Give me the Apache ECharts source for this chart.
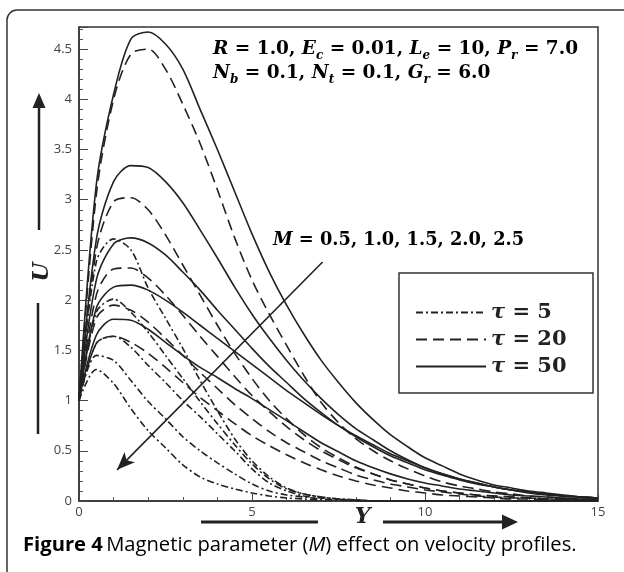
<!DOCTYPE html>
<html>
<head>
<meta charset="utf-8">
<script src="https://cdn.jsdelivr.net/npm/echarts@6/dist/echarts.min.js"></script>
<style>html,body{margin:0;padding:0;background:#fff;}#c{width:624px;height:572px;}</style>
</head>
<body>
<div id="c"></div>
<script>
// Y positions shared by all profiles (step 0.5)
const Ygrid = [0,0.5,1,1.5,2,2.5,3,3.5,4,4.5,5,5.5,6,6.5,7,7.5,8,8.5,9,9.5,10,10.5,11,11.5,12,12.5,13,13.5,14,14.5,15];
// tau = 5 (dash-dot), M = 0.5 .. 2.5
const tau5_M05 = [1,2.38,2.61,2.5,2.12,1.82,1.52,1.2,0.9,0.62,0.4,0.24,0.13,0.07,0.04,0.02,0.01,0,0,0,0,0,0,0,0,0,0,0,0,0,0];
const tau5_M10 = [1,1.88,2.01,1.88,1.68,1.45,1.22,0.99,0.77,0.56,0.37,0.22,0.12,0.07,0.04,0.02,0.01,0,0,0,0,0,0,0,0,0,0,0,0,0,0];
const tau5_M15 = [1,1.57,1.64,1.53,1.35,1.18,1.0,0.84,0.67,0.5,0.32,0.18,0.1,0.05,0.03,0.02,0.01,0,0,0,0,0,0,0,0,0,0,0,0,0,0];
const tau5_M20 = [1,1.45,1.4,1.2,0.99,0.82,0.64,0.5,0.38,0.27,0.17,0.1,0.06,0.04,0.02,0.01,0.01,0,0,0,0,0,0,0,0,0,0,0,0,0,0];
const tau5_M25 = [1,1.31,1.17,0.92,0.7,0.53,0.36,0.24,0.17,0.12,0.08,0.05,0.03,0.02,0.01,0.01,0,0,0,0,0,0,0,0,0,0,0,0,0,0,0];
// tau = 20 (dashed)
const tau20_M05 = [1,3.05,4.0,4.45,4.5,4.3,3.95,3.56,3.1,2.62,2.2,1.86,1.55,1.25,0.98,0.78,0.62,0.5,0.4,0.32,0.25,0.19,0.15,0.12,0.09,0.07,0.05,0.04,0.03,0.02,0.02];
const tau20_M10 = [1,2.5,2.98,3.02,2.9,2.65,2.35,2.05,1.75,1.47,1.22,1.0,0.82,0.66,0.53,0.43,0.34,0.27,0.21,0.17,0.13,0.1,0.08,0.06,0.05,0.04,0.03,0.02,0.02,0.01,0.01];
const tau20_M15 = [1,2.05,2.31,2.32,2.22,2.05,1.85,1.64,1.44,1.24,1.05,0.89,0.74,0.61,0.5,0.41,0.33,0.27,0.21,0.17,0.13,0.1,0.08,0.06,0.05,0.04,0.03,0.02,0.02,0.01,0.01];
const tau20_M20 = [1,1.82,1.95,1.9,1.78,1.62,1.45,1.28,1.12,0.96,0.82,0.69,0.58,0.49,0.4,0.33,0.26,0.21,0.17,0.14,0.11,0.09,0.07,0.05,0.04,0.03,0.03,0.02,0.02,0.01,0.01];
const tau20_M25 = [1,1.57,1.64,1.58,1.47,1.33,1.18,1.03,0.9,0.77,0.65,0.55,0.46,0.38,0.31,0.25,0.2,0.16,0.13,0.1,0.08,0.06,0.05,0.04,0.03,0.02,0.02,0.01,0.01,0.01,0.01];
// tau = 50 (solid)
const tau50_M05 = [1,3.15,4.05,4.6,4.67,4.55,4.3,3.9,3.5,3.08,2.66,2.28,1.95,1.66,1.4,1.18,0.98,0.81,0.66,0.54,0.43,0.35,0.27,0.21,0.16,0.13,0.1,0.08,0.06,0.04,0.03];
const tau50_M10 = [1,2.6,3.18,3.34,3.32,3.18,2.97,2.7,2.42,2.13,1.86,1.62,1.4,1.2,1.02,0.86,0.72,0.61,0.5,0.41,0.33,0.27,0.22,0.18,0.14,0.11,0.08,0.06,0.05,0.04,0.03];
const tau50_M15 = [1,2.2,2.56,2.62,2.57,2.45,2.28,2.1,1.9,1.71,1.52,1.34,1.18,1.02,0.88,0.75,0.64,0.54,0.45,0.38,0.31,0.26,0.21,0.17,0.14,0.11,0.09,0.07,0.05,0.04,0.03];
const tau50_M20 = [1,1.92,2.13,2.15,2.1,2.0,1.88,1.75,1.62,1.49,1.36,1.23,1.1,0.98,0.86,0.75,0.65,0.56,0.47,0.4,0.33,0.27,0.22,0.18,0.14,0.11,0.09,0.07,0.05,0.04,0.03];
const tau50_M25 = [1,1.65,1.81,1.8,1.71,1.58,1.45,1.33,1.23,1.12,1.02,0.91,0.8,0.69,0.58,0.49,0.4,0.33,0.27,0.22,0.18,0.15,0.12,0.1,0.08,0.06,0.05,0.04,0.03,0.02,0.02];

const tauNames = ['τ = 5', 'τ = 20', 'τ = 50'];
const tauGroups = [
  [tau5_M05, tau5_M10, tau5_M15, tau5_M20, tau5_M25],
  [tau20_M05, tau20_M10, tau20_M15, tau20_M20, tau20_M25],
  [tau50_M05, tau50_M10, tau50_M15, tau50_M20, tau50_M25]
];
const yTicks = { min: 0, max: 15, interval: 5 };
const uTicks = { min: 0, max: 4.72, interval: 0.5 };
// M arrow end points in data units [Y, U]
const mArrowStart = [7.04, 2.38];
const mArrowEnd = [1.1, 0.31];

const dashTypes = [[7,3,2,3], [11,6], 'solid'];
const ink = '#222';

const series = [];
tauGroups.forEach((group, gi) => {
  group.forEach((vals) => {
    series.push({
      type: 'line',
      name: tauNames[gi],
      data: Ygrid.map((y, i) => [y, vals[i]]),
      showSymbol: false,
      symbol: 'none',
      smooth: 0.3,
      lineStyle: { color: ink, width: 1.6, type: dashTypes[gi] },
      itemStyle: { color: ink },
      z: 3,
      silent: true
    });
  });
});
series.push({
  type: 'line',
  data: [],
  silent: true,
  markLine: {
    silent: true,
    symbol: ['arrow', 'none'],
    symbolSize: [11, 18],
    label: { show: false },
    lineStyle: { color: ink, width: 1.6, type: 'solid' },
    data: [[{ coord: mArrowEnd }, { coord: mArrowStart }]]
  }
});

const serif = '"DejaVu Serif", "Liberation Serif", serif';
const sans = '"Open Sans", sans-serif';
function mathRich(size) {
  return {
    v: { fontFamily: serif, fontWeight: 'bold', fontStyle: 'italic', fontSize: size, lineHeight: 26, color: ink },
    n: { fontFamily: serif, fontWeight: 'bold', fontSize: size, lineHeight: 26, color: ink },
    s: { fontFamily: serif, fontWeight: 'bold', fontStyle: 'italic', fontSize: Math.round(size * 0.64), lineHeight: 13, verticalAlign: 'bottom', color: ink }
  };
}

const chart = echarts.init(document.getElementById('c'), null, { renderer: 'canvas' });
chart.setOption({
  animation: false,
  backgroundColor: '#fff',
  grid: { left: 79, top: 27, width: 519, height: 474, show: true, borderColor: '#333', borderWidth: 1.5, containLabel: false },
  xAxis: {
    type: 'value', min: yTicks.min, max: yTicks.max, interval: yTicks.interval,
    name: 'Y', nameLocation: 'middle', nameGap: 5, nameMoveOverlap: false,
    nameTextStyle: { fontFamily: serif, fontWeight: 'bold', fontStyle: 'italic', fontSize: 22, color: ink, padding: [0, 0, 0, 48] },
    axisLine: { lineStyle: { color: '#333', width: 1.5 } },
    axisTick: { inside: true, length: 7, lineStyle: { color: '#444' } },
    minorTick: { show: true, splitNumber: 5, length: 4, lineStyle: { color: '#555' } },
    axisLabel: { fontFamily: sans, fontSize: 13, color: '#444', margin: 5 },
    splitLine: { show: false }
  },
  yAxis: {
    type: 'value', min: uTicks.min, max: uTicks.max, interval: uTicks.interval,
    name: 'U', nameLocation: 'middle', nameGap: 26, nameRotate: 90, nameMoveOverlap: false,
    nameTextStyle: { fontFamily: serif, fontWeight: 'bold', fontStyle: 'italic', fontSize: 22, color: ink, padding: [0, 16, 0, 0] },
    axisLine: { lineStyle: { color: '#333', width: 1.5 } },
    axisTick: { inside: true, length: 9, lineStyle: { color: '#444' } },
    minorTick: { show: true, splitNumber: 5, length: 4, lineStyle: { color: '#555' } },
    axisLabel: { fontFamily: sans, fontSize: 13, color: '#444', margin: 7, showMaxLabel: false,
      formatter: v => (Math.round(v * 10) % 5 === 0 ? String(v) : '') },
    splitLine: { show: false }
  },
  legend: {
    data: tauNames,
    orient: 'vertical',
    left: 415, top: 302,
    itemWidth: 70, itemHeight: 14, itemGap: 6,
    padding: 0,
    selectedMode: false,
    itemStyle: { opacity: 0, borderWidth: 0 },
    formatter: name => '{t|τ}{n|' + name.slice(1) + '}',
    textStyle: {
      lineHeight: 21,
      rich: {
        t: { fontFamily: serif, fontWeight: 'bold', fontStyle: 'italic', fontSize: 21, lineHeight: 21, color: ink },
        n: { fontFamily: serif, fontWeight: 'bold', fontSize: 21, lineHeight: 21, color: ink }
      }
    }
  },
  graphic: [
    { type: 'rect', silent: true, shape: { x: 7, y: 10, width: 626, height: 620, r: 10 }, style: { fill: 'none', stroke: '#333', lineWidth: 1.5 } },
    { type: 'rect', silent: true, z: 5, shape: { x: 399, y: 273, width: 194, height: 120 }, style: { fill: 'none', stroke: '#333', lineWidth: 1.5 } },
    { type: 'line', silent: true, shape: { x1: 39, y1: 230, x2: 39, y2: 105 }, style: { stroke: ink, lineWidth: 2.5 } },
    { type: 'polygon', silent: true, shape: { points: [[39, 93], [32.5, 108], [45.5, 108]] }, style: { fill: ink } },
    { type: 'line', silent: true, shape: { x1: 38, y1: 303, x2: 38, y2: 434 }, style: { stroke: ink, lineWidth: 2.5 } },
    { type: 'line', silent: true, shape: { x1: 201, y1: 522, x2: 318, y2: 522 }, style: { stroke: ink, lineWidth: 3 } },
    { type: 'line', silent: true, shape: { x1: 383, y1: 522, x2: 504, y2: 522 }, style: { stroke: ink, lineWidth: 3 } },
    { type: 'polygon', silent: true, shape: { points: [[518, 522], [502, 514.5], [502, 529.5]] }, style: { fill: ink } },
    { type: 'text', silent: true, style: { x: 213, y: 49, verticalAlign: 'middle',
        text: '{v|R}{n| = 1.0, }{v|E}{s|c}{n| = 0.01, }{v|L}{s|e}{n| = 10, }{v|P}{s|r}{n| = 7.0}', rich: mathRich(18.5) } },
    { type: 'text', silent: true, style: { x: 213, y: 73, verticalAlign: 'middle',
        text: '{v|N}{s|b}{n| = 0.1, }{v|N}{s|t}{n| = 0.1, }{v|G}{s|r}{n| = 6.0}', rich: mathRich(18.5) } },
    { type: 'text', silent: true, style: { x: 273, y: 240, verticalAlign: 'middle',
        text: '{v|M}{n| = 0.5, 1.0, 1.5, 2.0, 2.5}', rich: mathRich(17.8) } },
    { type: 'text', silent: true, style: { x: 23, y: 545, verticalAlign: 'middle',
        text: '{b|Figure 4} {r|Magnetic parameter (}{i|M}{r|) effect on velocity profiles.}',
        rich: {
          b: { fontFamily: sans, fontWeight: 'bold', fontSize: 20.2, color: ink },
          r: { fontFamily: sans, fontSize: 20.2, color: ink },
          i: { fontFamily: sans, fontStyle: 'italic', fontSize: 20.2, color: ink }
        } } }
  ],
  series: series
});
</script>
</body>
</html>
